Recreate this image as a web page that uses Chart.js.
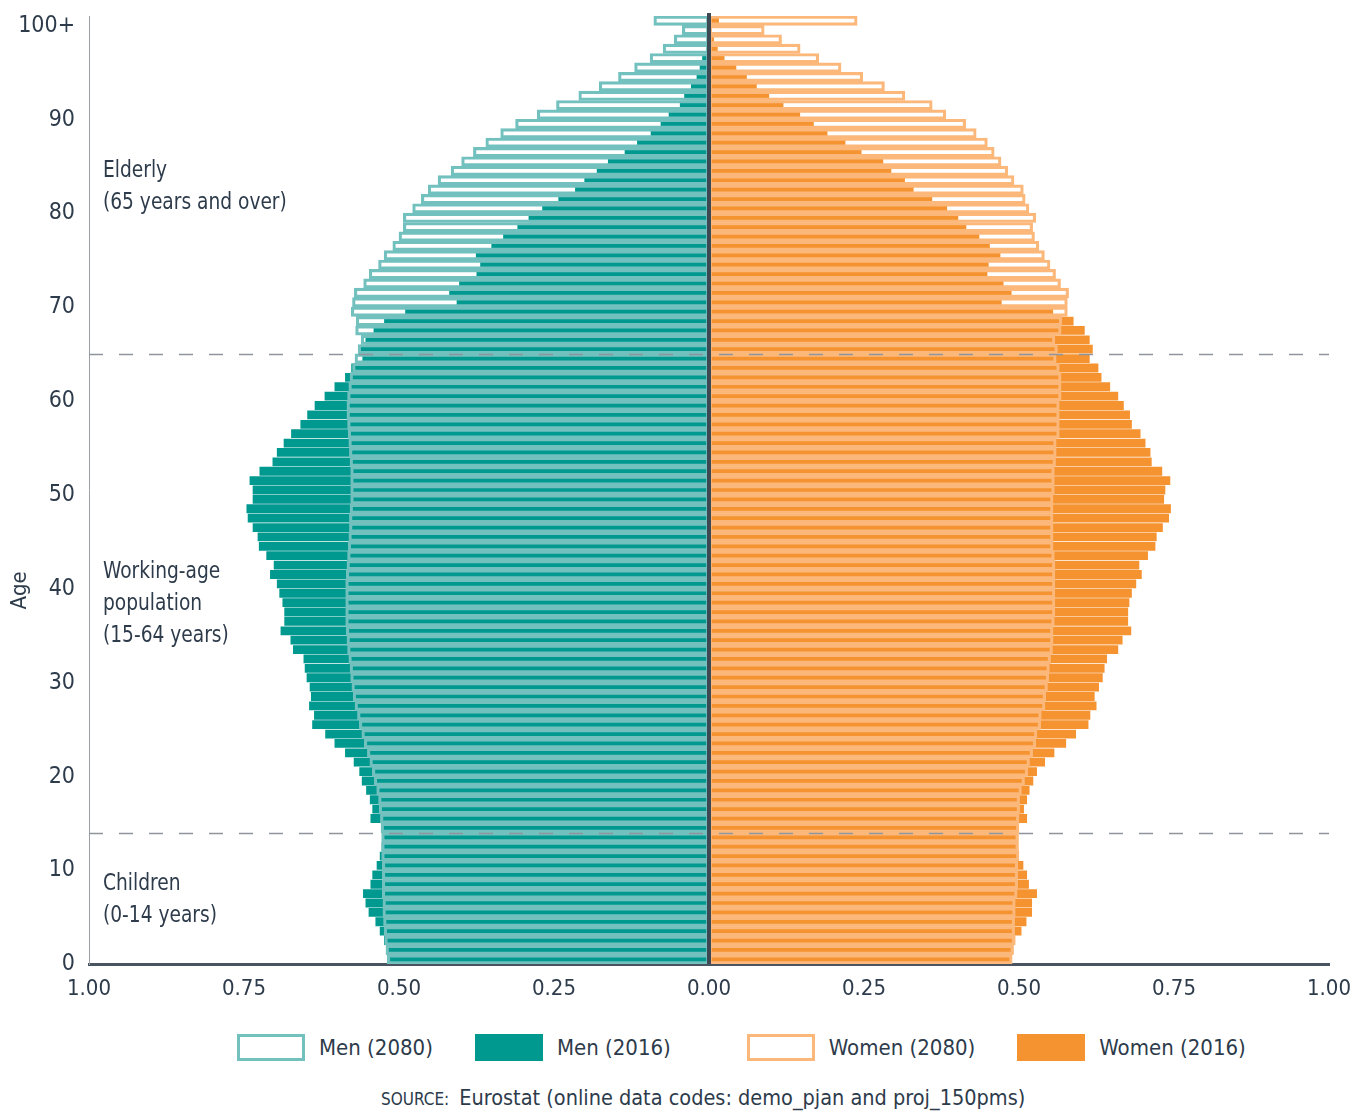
<!DOCTYPE html>
<html>
<head>
<meta charset="utf-8">
<script src="https://cdn.jsdelivr.net/npm/chart.js@4.4.1/dist/chart.umd.min.js"></script>
<style>
  body { margin: 0; background: #fff; font-family: "DejaVu Sans Condensed", "Liberation Sans Narrow", Roboto, sans-serif; color: #2d3b4b; }
  #wrap { position: relative; width: 1366px; height: 1111px; }
  #legend { position: absolute; top: 1034px; left: 237px; display: flex; align-items: center; font-size: 22px; }
  #legend .item { display: flex; align-items: center; }
  #legend .box { width: 68px; height: 27px; box-sizing: border-box; margin-right: 14px; }
  #source { position: absolute; top: 1085px; left: 381px; font-size: 21.5px; white-space: nowrap; }
  #source span { font-size: 17px; margin-right: 10px; }
</style>
</head>
<body>
<div id="wrap">
  <canvas id="pyramid" width="1366" height="1012"></canvas>
  <div id="legend"></div>
  <div id="source"><span>SOURCE:</span>Eurostat (online data codes: demo_pjan and proj_150pms)</div>
</div>
<script>
// ages 0 .. 100+, values in % of total population
const ages = Array.from({ length: 101 }, (_, i) => i === 100 ? '100+' : String(i));

const men2016 = [
  0.515, 0.521, 0.524, 0.531, 0.538, 0.549, 0.554, 0.558, 0.546, 0.543,
  0.536, 0.531, 0.528, 0.527, 0.527, 0.546, 0.543, 0.547, 0.553, 0.560,
  0.564, 0.573, 0.587, 0.604, 0.619, 0.640, 0.637, 0.645, 0.642, 0.644,
  0.649, 0.652, 0.654, 0.671, 0.675, 0.691, 0.685, 0.685, 0.688, 0.693,
  0.697, 0.708, 0.702, 0.714, 0.726, 0.728, 0.736, 0.744, 0.746, 0.736,
  0.736, 0.741, 0.725, 0.704, 0.697, 0.686, 0.674, 0.659, 0.648, 0.636,
  0.620, 0.604, 0.587, 0.577, 0.559, 0.562, 0.554, 0.541, 0.524, 0.490,
  0.407, 0.419, 0.403, 0.375, 0.369, 0.376, 0.351, 0.332, 0.309, 0.291,
  0.269, 0.243, 0.216, 0.201, 0.181, 0.163, 0.136, 0.116, 0.094, 0.078,
  0.065, 0.047, 0.040, 0.029, 0.020, 0.015, 0.011, 0.004, 0.003, 0.002,
  0.003
];

const men2080 = [
  0.519, 0.521, 0.523, 0.524, 0.525, 0.526, 0.526, 0.527, 0.527, 0.527,
  0.527, 0.528, 0.528, 0.528, 0.529, 0.530, 0.532, 0.533, 0.536, 0.540,
  0.543, 0.547, 0.551, 0.556, 0.560, 0.564, 0.567, 0.571, 0.574, 0.576,
  0.578, 0.579, 0.581, 0.583, 0.584, 0.585, 0.586, 0.586, 0.586, 0.586,
  0.586, 0.585, 0.584, 0.583, 0.582, 0.581, 0.580, 0.580, 0.579, 0.578,
  0.578, 0.578, 0.578, 0.579, 0.580, 0.581, 0.582, 0.583, 0.584, 0.584,
  0.583, 0.581, 0.579, 0.575, 0.571, 0.566, 0.561, 0.570, 0.569, 0.577,
  0.575, 0.572, 0.557, 0.548, 0.533, 0.524, 0.510, 0.500, 0.493, 0.493,
  0.478, 0.464, 0.453, 0.437, 0.416, 0.399, 0.380, 0.360, 0.336, 0.312,
  0.277, 0.246, 0.210, 0.177, 0.146, 0.120, 0.095, 0.074, 0.056, 0.043,
  0.089
];

const women2016 = [
  0.488, 0.491, 0.494, 0.504, 0.512, 0.521, 0.521, 0.529, 0.516, 0.513,
  0.507, 0.500, 0.499, 0.499, 0.500, 0.513, 0.508, 0.513, 0.517, 0.523,
  0.529, 0.542, 0.557, 0.576, 0.592, 0.612, 0.615, 0.625, 0.622, 0.629,
  0.635, 0.638, 0.642, 0.660, 0.667, 0.681, 0.676, 0.676, 0.678, 0.682,
  0.689, 0.698, 0.694, 0.708, 0.720, 0.722, 0.732, 0.742, 0.745, 0.734,
  0.736, 0.744, 0.731, 0.714, 0.712, 0.704, 0.696, 0.682, 0.679, 0.669,
  0.660, 0.647, 0.633, 0.628, 0.614, 0.619, 0.614, 0.606, 0.588, 0.555,
  0.472, 0.488, 0.475, 0.449, 0.451, 0.470, 0.453, 0.436, 0.415, 0.402,
  0.384, 0.360, 0.330, 0.316, 0.294, 0.281, 0.246, 0.220, 0.191, 0.169,
  0.147, 0.120, 0.097, 0.077, 0.061, 0.044, 0.025, 0.014, 0.008, 0.004,
  0.016
];

const women2080 = [
  0.489, 0.491, 0.493, 0.493, 0.493, 0.494, 0.494, 0.497, 0.498, 0.498,
  0.498, 0.500, 0.499, 0.499, 0.500, 0.500, 0.501, 0.501, 0.504, 0.509,
  0.514, 0.517, 0.522, 0.527, 0.529, 0.535, 0.536, 0.542, 0.543, 0.546,
  0.548, 0.549, 0.551, 0.554, 0.555, 0.555, 0.557, 0.558, 0.558, 0.558,
  0.558, 0.558, 0.558, 0.557, 0.555, 0.555, 0.555, 0.555, 0.555, 0.555,
  0.557, 0.557, 0.557, 0.559, 0.560, 0.560, 0.565, 0.565, 0.565, 0.565,
  0.568, 0.568, 0.568, 0.565, 0.560, 0.562, 0.558, 0.568, 0.569, 0.578,
  0.578, 0.580, 0.567, 0.559, 0.550, 0.541, 0.532, 0.525, 0.522, 0.527,
  0.516, 0.510, 0.507, 0.492, 0.482, 0.471, 0.460, 0.449, 0.431, 0.414,
  0.382, 0.360, 0.316, 0.283, 0.248, 0.213, 0.177, 0.147, 0.117, 0.089,
  0.239
];

const xTicks = [-1, -0.75, -0.5, -0.25, 0, 0.25, 0.5, 0.75, 1];

// age-group notes: anchor age and text lines
const groupNotes = [
  { age: 84, lines: ['Elderly', '(65 years and over)'] },
  { age: 41.3, lines: ['Working-age', 'population', '(15-64 years)'] },
  { age: 8, lines: ['Children', '(0-14 years)'] }
];
const groupBreaks = [64.5, 13.5];

const FONT = '"DejaVu Sans Condensed", "Liberation Sans Narrow", Roboto, sans-serif';
const TEXT = '#2d3b4b';

Chart.defaults.font.family = FONT;
Chart.defaults.color = TEXT;

// dashed group lines, centre line, axis title and the age group notes
const pyramidExtras = {
  id: 'pyramidExtras',
  afterDatasetsDraw(chart) {
    const { ctx, chartArea, scales } = chart;
    ctx.save();
    ctx.strokeStyle = '#8e959c';
    ctx.lineWidth = 1.5;
    ctx.setLineDash([14, 16]);
    groupBreaks.forEach(b => {
      const y = Math.round(scales.y.getPixelForValue(b)) + 0.5;
      ctx.beginPath();
      ctx.moveTo(chartArea.left, y);
      ctx.lineTo(chartArea.right, y);
      ctx.stroke();
    });
    ctx.setLineDash([]);
    const x0 = scales.x.getPixelForValue(0);
    ctx.strokeStyle = '#3e4853';
    ctx.lineWidth = 4;
    ctx.beginPath();
    ctx.moveTo(x0, chartArea.top - 3);
    ctx.lineTo(x0, chartArea.bottom);
    ctx.stroke();

    ctx.fillStyle = TEXT;
    ctx.textAlign = 'left';
    ctx.textBaseline = 'middle';
    ctx.font = '23px ' + FONT;
    groupNotes.forEach(n => {
      const y = scales.y.getPixelForValue(n.age);
      n.lines.forEach((t, i) => {
        ctx.save();
        ctx.translate(chartArea.left + 14, y + i * 32);
        ctx.scale(0.9, 1);
        ctx.fillText(t, 0, 0);
        ctx.restore();
      });
    });

    ctx.save();
    ctx.translate(chartArea.left - 69, scales.y.getPixelForValue(39.3));
    ctx.rotate(-Math.PI / 2);
    ctx.textAlign = 'center';
    ctx.font = '22px ' + FONT;
    ctx.fillText('Age', 0, 0);
    ctx.restore();
    ctx.restore();
  }
};

const chart = new Chart(document.getElementById('pyramid').getContext('2d'), {
  type: 'bar',
  data: {
    labels: ages,
    datasets: [
      {
        label: 'Men (2080)',
        data: men2080.map(v => -v),
        backgroundColor: 'rgba(255,255,255,0)',
        borderColor: '#72c1bf',
        borderWidth: 2.5,
        borderSkipped: false
      },
      {
        label: 'Men (2016)',
        data: men2016.map(v => -v),
        backgroundColor: '#00998f',
        borderWidth: 0,
        barPercentage: 0.94
      },
      {
        label: 'Women (2080)',
        data: women2080,
        backgroundColor: 'rgba(255,255,255,0)',
        borderColor: '#fbb87a',
        borderWidth: 2.5,
        borderSkipped: false
      },
      {
        label: 'Women (2016)',
        data: women2016,
        backgroundColor: '#f59331',
        borderWidth: 0,
        barPercentage: 0.94
      }
    ]
  },
  options: {
    indexAxis: 'y',
    responsive: false,
    animation: false,
    devicePixelRatio: 1,
    datasets: {
      bar: { grouped: false, categoryPercentage: 1, barPercentage: 1 }
    },
    layout: { padding: { top: 16, right: 37, left: 0, bottom: 0 } },
    plugins: {
      legend: { display: false },
      tooltip: { enabled: false }
    },
    scales: {
      x: {
        type: 'linear',
        min: -1,
        max: 1,
        afterBuildTicks: s => { s.ticks = xTicks.map(v => ({ value: v })); },
        afterFit: s => { s.height = 48; },
        grid: { display: false, drawTicks: false },
        border: { color: '#4a5461', width: 3 },
        ticks: {
          padding: 12,
          font: { size: 22 },
          color: TEXT,
          callback: v => Math.abs(v).toFixed(2)
        }
      },
      y: {
        type: 'category',
        reverse: true,
        afterFit: s => { s.width = 89; s.paddingTop = 0; s.paddingBottom = 0; },
        grid: { display: false, drawTicks: false },
        border: { color: '#9aa0a6', width: 1, dash: [2, 2] },
        ticks: {
          autoSkip: false,
          padding: 14,
          labelOffset: 5,
          font: { size: 23 },
          color: TEXT,
          callback: (v, i) => i % 10 === 0 ? ages[i] : null
        }
      }
    }
  },
  plugins: [pyramidExtras]
});

// legend built from the datasets
const legend = document.getElementById('legend');
chart.data.datasets.forEach((ds, i) => {
  const item = document.createElement('div');
  item.className = 'item';
  item.style.marginRight = i === 1 ? '76px' : (i === 3 ? '0' : '42px');
  const box = document.createElement('span');
  box.className = 'box';
  if (ds.borderWidth) {
    box.style.border = '3px solid ' + ds.borderColor;
    box.style.background = '#fff';
  } else {
    box.style.background = ds.backgroundColor;
  }
  const txt = document.createElement('span');
  txt.textContent = ds.label;
  item.appendChild(box);
  item.appendChild(txt);
  legend.appendChild(item);
});
</script>
</body>
</html>
